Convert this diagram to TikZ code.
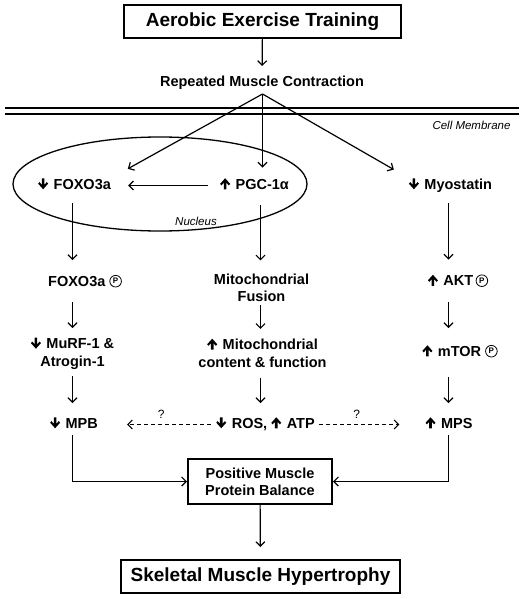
\documentclass[tikz,border=0pt]{standalone}
\usepackage{fontspec}
\setmainfont{Liberation Sans}
\usetikzlibrary{arrows.meta,positioning}

% 粗箭头符号(上/下)
\newcommand\upar{\tikz[baseline=0pt,x=1pt,y=1pt]\fill (3.7,0)--(6.3,0)--(6.3,6.5)--(8.6,3.9)--(10,5.4)--(5,11)--(0,5.4)--(1.4,3.9)--(3.7,6.5)--cycle;\kern1.5pt}
\newcommand\dnar{\tikz[baseline=0pt,x=1pt,y=1pt]\fill (3.7,11)--(6.3,11)--(6.3,4.5)--(8.6,7.1)--(10,5.6)--(5,0)--(0,5.6)--(1.4,7.1)--(3.7,4.5)--cycle;\kern1.5pt}
% 磷酸化标记
\newcommand\phos{\tikz[baseline={([yshift=-2.3pt]pp.base)}]\node[draw,circle,line width=0.8pt,inner sep=1.4pt,font=\fontsize{8}{8}\selectfont\bfseries](pp){P};}

\begin{document}
\begin{tikzpicture}
        % 坐标单位: 1pt, y轴向下
        [x=1pt,y=-1pt,
        box/.style={draw,line width=2pt,inner sep=0pt,font=\bfseries\fontsize{19}{22}\selectfont},
        lbl/.style={inner sep=1pt,text height=10.5pt,text depth=3pt,font=\bfseries\fontsize{14.5}{17.5}\selectfont},
        lbl2/.style={inner sep=1pt,align=center,font=\bfseries\fontsize{14.5}{17.5}\selectfont},
        note/.style={inner sep=0pt,font=\itshape\fontsize{11.5}{13}\selectfont},
        qm/.style={inner sep=0pt,font=\fontsize{12}{14}\selectfont},
        arr/.style={line width=1.2pt,-{Straight Barb[length=4.5pt,width=9pt]}},
        darr/.style={line width=1.1pt,dash pattern=on 4pt off 3pt,-{Straight Barb[length=4.5pt,width=9pt]}},
        mem/.style={line width=1.8pt}]

        \useasboundingbox (0,0) rectangle (526,599);

        % 顶部结点
        \node[box,minimum width=277pt,minimum height=33pt] (aet) at (262.5,21.5) {Aerobic Exercise Training};
        \node[lbl] (rmc) at (262,82.5) {Repeated Muscle Contraction};
        \coordinate (br) at (262.5,94);

        % 细胞膜
        \foreach \y in {108,114}
        \draw[mem] (5,\y) -- (519,\y);
        \node[note] (cm) at (471.5,125) {Cell Membrane};

        % 细胞核
        \draw[line width=1.3pt] (160,184) ellipse [x radius=147,y radius=47];
        \node[note] (nuc) at (196,221) {Nucleus};

        % 三列的横坐标
        \coordinate (lcol) at (72.5,0);
        \coordinate (mcol) at (260.5,0);
        \coordinate (rcol) at (448.5,0);

        % 第一行
        \node[lbl] (fox) at (74.5,185.5) {\dnar\ FOXO3a};
        \node[lbl] (pgc) at (254.5,185.5) {\upar\ PGC-1α};
        \node[lbl] (myo) at (450.5,185.5) {\dnar\ Myostatin};

        % 第二行
        \node[lbl] (foxp) at (85,282.5) {FOXO3a \phos};
        \node[lbl2] (fus) at (261.5,287.75) {Mitochondrial\\Fusion};
        \node[lbl] (akt) at (458,282) {\upar\ AKT\,\phos};

        % 第三行
        \node[lbl2] (murf) at (72.5,353.5) {\dnar\ MuRF-1 \&\\Atrogin-1};
        \node[lbl2] (mito) at (262.5,353) {\upar\ Mitochondrial\\content \& function};
        \node[lbl] (mtor) at (460,352.5) {\upar\ mTOR \phos};

        % 第四行
        \node[lbl] (mpb) at (74,424.5) {\dnar\ MPB};
        \node[lbl] (ros) at (265.5,424.5) {\dnar\ ROS, \upar\ ATP};
        \node[lbl] (mps) at (449,424.5) {\upar\ MPS};

        % 底部结点
        \node[box,align=center,font=\bfseries\fontsize{14.5}{17}\selectfont,minimum width=144pt,minimum height=45pt] (pmpb) at (260,481.5) {Positive Muscle\\Protein Balance};
        \node[box,minimum width=279pt,minimum height=33pt] (smh) at (260.5,576.5) {Skeletal Muscle Hypertrophy};

        % 顶部连线
        \draw[arr,shorten >=8.5pt] (aet) -- (rmc);
        \draw[arr,shorten >=18pt] (br) -- (fox.north east);
        \draw[arr,shorten >=10pt] (br) -- (br |- pgc.north);
        \draw[arr,shorten >=16pt] (br) -- (myo.north west);
        \draw[arr,shorten <=11pt,shorten >=16pt] (pgc) -- (fox);

        % 第一行到第二行
        \draw[arr,shorten <=10pt,shorten >=14.5pt] (fox.south -| lcol) -- (foxp.north -| lcol);
        \draw[arr,shorten <=12pt,shorten >=12pt] (pgc.south -| mcol) -- (fus.north -| mcol);
        \draw[arr,shorten <=10pt,shorten >=14.5pt] (myo.south -| rcol) -- (akt.north -| rcol);

        % 第二行到第三行
        \draw[arr,shorten <=12pt,shorten >=8.5pt] (foxp.south -| lcol) -- (murf.north -| lcol);
        \draw[arr,shorten <=2pt,shorten >=8.5pt] (fus.south -| mcol) -- (mito.north -| mcol);
        \draw[arr,shorten <=12pt,shorten >=16.5pt] (akt.south -| rcol) -- (mtor.north -| rcol);

        % 第三行到第四行
        \draw[arr,shorten <=6pt,shorten >=13.5pt] (murf.south -| lcol) -- (mpb.north -| lcol);
        \draw[arr,shorten <=9pt,shorten >=13.5pt] (mito.south -| mcol) -- (ros.north -| mcol);
        \draw[arr,shorten <=16.5pt,shorten >=13.5pt] (mtor.south -| rcol) -- (mps.north -| rcol);

        % 虚线箭头
        \draw[darr,shorten <=4.5pt,shorten >=28pt] (ros) -- node[qm,pos=0.465,above=5pt] (q1) {?} (mpb);
        \draw[darr,shorten <=3.5pt,shorten >=25pt] (ros) -- node[qm,pos=0.376,above=5pt] (q2) {?} (mps);

        % 汇合到蛋白平衡
        \draw[arr,shorten <=2.5pt] (mpb.south -| lcol) |- (pmpb.west);
        \draw[arr,shorten <=2.5pt] (mps.south -| rcol) |- (pmpb.east);
        \draw[arr,shorten >=12pt] (pmpb) -- (smh);
    \end{tikzpicture}
\end{document}
